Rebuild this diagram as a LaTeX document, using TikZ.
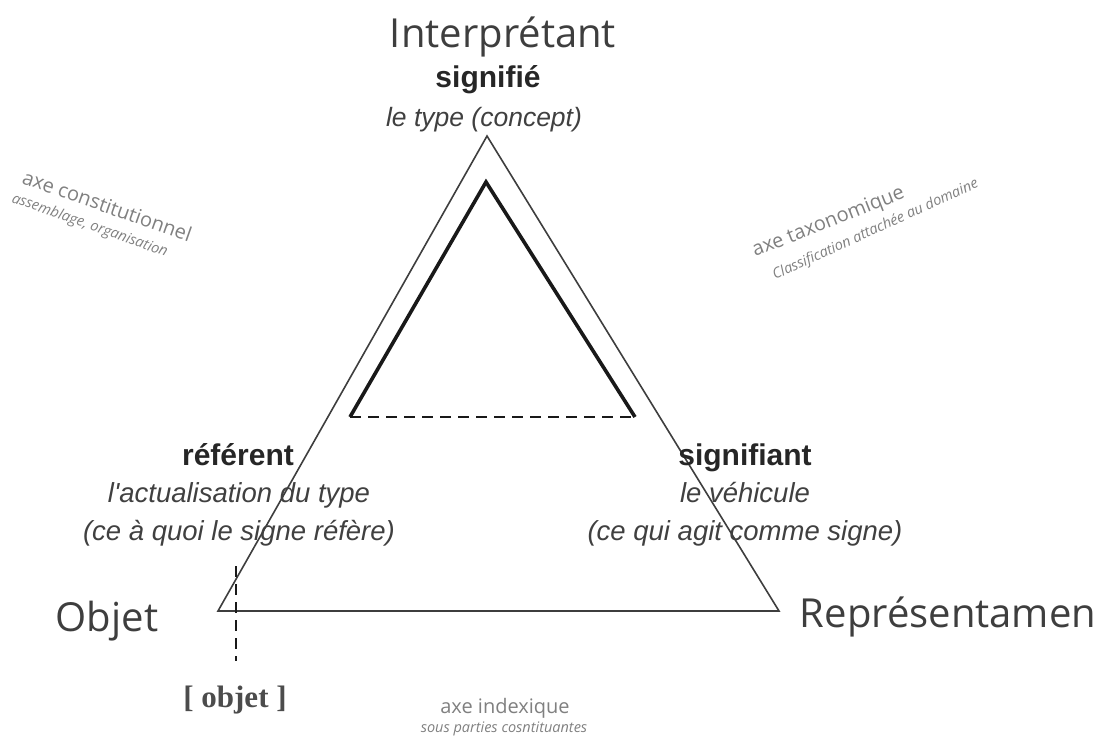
\documentclass[tikz,border=0pt]{standalone}
\usepackage{fontspec}
\usepackage{xcolor}
\usepackage{tikz}
\usetikzlibrary{positioning,calc}
\newfontfamily\opensans{Open Sans}
\newfontfamily\arialf{Liberation Sans}
\newfontfamily\timesf{Liberation Serif}
\definecolor{SignGray}{RGB}{62,62,62}
\definecolor{AxeGray}{RGB}{128,128,128}
\tikzset{
    pole/.style={text=SignGray, font=\opensans\fontsize{40}{44}\selectfont, inner sep=0pt, anchor=base},
    termname/.style={text=black!85, font=\arialf\bfseries\fontsize{30}{34}\selectfont, inner sep=0pt, anchor=base},
    termnote/.style={text=black!75, font=\arialf\itshape\fontsize{27.5}{31}\selectfont, inner sep=0pt, anchor=base},
    axename/.style={text=AxeGray, font=\opensans\fontsize{20}{24}\selectfont, inner sep=0pt, anchor=base west},
    axenote/.style={text=AxeGray, font=\opensans\itshape\fontsize{14.5}{17}\selectfont, inner sep=0pt, anchor=base west}
}
\begin{document}
\begin{tikzpicture}[
        x=1pt, y=-1pt,
        % --- STYLE ---
        % Triangle exterieur
        outerline/.style={draw=SignGray, line width=1.6pt, line join=miter},
        % Triangle interieur
        innerline/.style={draw=black!90, line width=3.6pt, line join=miter},
        % Traits pointilles
        dashline/.style={draw=black!90, line width=2.4pt, dash pattern=on 11pt off 7pt}
    ]
        \useasboundingbox (0,0) rectangle (1105,742);

        % --- SOMMETS ---
        \coordinate (I) at (487,136);
        \coordinate (O) at (218,611);
        \coordinate (R) at (779,611);
        \coordinate (i1) at (486,182);
        \coordinate (o1) at (350,417);
        \coordinate (r1) at (635,417);
        \coordinate (v1) at (236,566);
        \coordinate (v2) at (236,661);

        % --- TRIANGLES ---
        \draw[outerline] (I) -- (O) -- (R) -- cycle;
        \draw[innerline] (o1) -- (i1) -- (r1);
        \draw[dashline] (o1) -- (r1);
        \draw[dashline, line width=2.2pt] (v1) -- (v2);

        % --- POLES ---
        \node[pole] (interp) at (503,47) {Interprétant};
        \node[pole] (objet) at (107,631) {Objet};
        \node[pole] (repr) at (948,627) {Représentamen};
        \node[text=black!70, font=\timesf\bfseries\fontsize{31}{34}\selectfont, inner sep=0pt, anchor=base] (objref) at (235,707) {[ objet ]};

        % --- SIGNIFIE ---
        \node[termname] (signifie) at (488,87) {signifié};
        \node[termnote, font=\arialf\itshape\fontsize{26.5}{30}\selectfont] (typeconc) at (484,126) {le type (concept)};

        % --- REFERENT ---
        \node[termname] (referent) at (238,465) {référent};
        \node[termnote] (actual) at (239,502) {l'actualisation du type};
        \node[termnote] (refere) at (239,540) {(ce à quoi le signe réfère)};

        % --- SIGNIFIANT ---
        \node[termname] (signifiant) at (745,465) {signifiant};
        \node[termnote] (vehic) at (745,502) {le véhicule};
        \node[termnote] (agit) at (745,540) {(ce qui agit comme signe)};

        % --- AXES ---
        \node[axename, rotate=-19.5] (axeconst) at (21,183) {axe constitutionnel};
        \node[axenote, rotate=-19.5] (assemb) at (11,202) {assemblage, organisation};
        \node[axename, rotate=21.5] (axetaxo) at (755,257) {axe taxonomique};
        \node[axenote, rotate=24.5] (classif) at (775,280) {Classification attachée au domaine};
        \node[axename, anchor=base] (axeindex) at (505,713) {axe indexique};
        \node[axenote, anchor=base] (sousparts) at (504,732) {sous parties cosntituantes};

    \end{tikzpicture}
\end{document}
